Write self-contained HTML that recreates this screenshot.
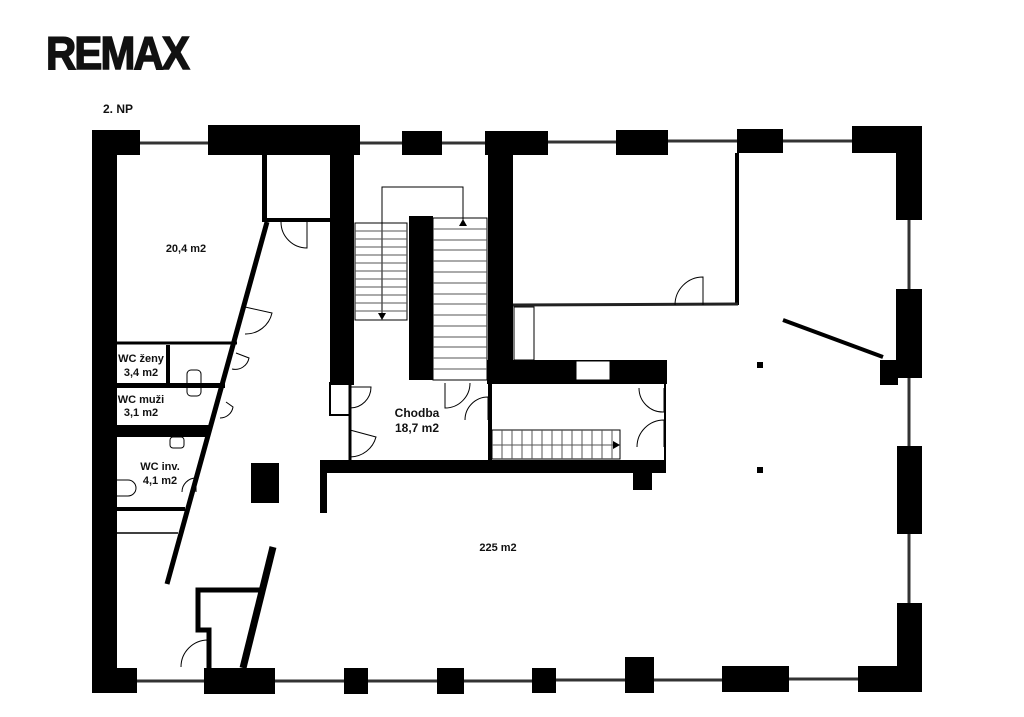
<!DOCTYPE html>
<html><head><meta charset="utf-8"><style>
html,body{margin:0;padding:0;background:#fff;}
svg{display:block}
text{font-family:"Liberation Sans",sans-serif;font-weight:bold;fill:#111}
</style></head><body>
<svg width="1024" height="717" viewBox="0 0 1024 717" xmlns="http://www.w3.org/2000/svg">
<rect width="1024" height="717" fill="#fff"/>
<text x="46" y="69" font-size="46" textLength="142" lengthAdjust="spacingAndGlyphs" style="font-weight:900;letter-spacing:-2px" stroke="#111" stroke-width="1.5">REMAX</text>
<text x="103" y="113" font-size="12">2. NP</text>

<g stroke="#333" stroke-width="3">
<line x1="140" y1="143" x2="208" y2="143"/>
<line x1="358" y1="143" x2="402" y2="143"/>
<line x1="442" y1="143" x2="485" y2="143"/>
<line x1="548" y1="142" x2="616" y2="142"/>
<line x1="668" y1="141" x2="737" y2="141"/>
<line x1="783" y1="141" x2="852" y2="141"/>
<line x1="909" y1="220" x2="909" y2="289"/>
<line x1="909" y1="378" x2="909" y2="446"/>
<line x1="909" y1="534" x2="909" y2="603"/>
<line x1="137" y1="681" x2="204" y2="681"/>
<line x1="275" y1="681" x2="344" y2="681"/>
<line x1="368" y1="681" x2="437" y2="681"/>
<line x1="464" y1="681" x2="532" y2="681"/>
<line x1="556" y1="680" x2="625" y2="680"/>
<line x1="654" y1="680" x2="722" y2="680"/>
<line x1="789" y1="679" x2="858" y2="679"/>
</g>

<g fill="#000">
<rect x="92" y="130" width="25" height="563"/>
<rect x="92" y="130" width="48" height="25"/>
<rect x="208" y="125" width="152" height="30"/>
<rect x="402" y="131" width="40" height="24"/>
<rect x="485" y="131" width="63" height="24"/>
<rect x="616" y="130" width="52" height="25"/>
<rect x="737" y="129" width="46" height="24"/>
<rect x="852" y="126" width="70" height="27"/>
<rect x="896" y="126" width="26" height="94"/>
<rect x="896" y="289" width="26" height="89"/>
<rect x="880" y="360" width="18" height="25"/>
<rect x="897" y="446" width="25" height="88"/>
<rect x="897" y="603" width="25" height="89"/>
<rect x="858" y="666" width="64" height="26"/>
<rect x="722" y="666" width="67" height="26"/>
<rect x="625" y="657" width="29" height="36"/>
<rect x="532" y="668" width="24" height="25"/>
<rect x="437" y="668" width="27" height="26"/>
<rect x="344" y="668" width="24" height="26"/>
<rect x="204" y="668" width="71" height="26"/>
<rect x="92" y="668" width="45" height="25"/>
<rect x="330" y="155" width="24" height="230"/>
<rect x="488" y="150" width="25" height="234"/>
<rect x="409" y="216" width="24" height="164"/>
<rect x="487" y="360" width="180" height="24"/>
<rect x="320" y="460" width="346" height="13"/>
<rect x="320" y="460" width="7" height="53"/>
<rect x="633" y="473" width="19" height="17"/>
<rect x="251" y="463" width="28" height="40"/>
<rect x="262" y="155" width="5" height="67"/>
<rect x="262" y="218" width="68" height="4"/>
<rect x="735" y="153" width="4" height="152"/>
<rect x="117" y="425" width="93" height="12"/>
<rect x="117" y="383" width="108" height="5"/>
<rect x="117" y="507" width="68" height="4"/>
<rect x="166" y="345" width="4" height="40"/>
<rect x="757" y="362" width="6" height="6"/>
<rect x="757" y="467" width="6" height="6"/>
</g>
<rect x="576" y="361" width="34" height="19" fill="#fff" stroke="#000"/>
<g stroke="#000" fill="none">
<line x1="267" y1="222" x2="167" y2="584" stroke-width="5"/>
<line x1="273" y1="547" x2="243" y2="668" stroke-width="7"/>
<polyline points="260,590 198,590 198,630 209,630 209,668" stroke-width="5"/>
<line x1="783" y1="320" x2="883" y2="357" stroke-width="4"/>
<line x1="513" y1="305" x2="738" y2="304" stroke-width="3" stroke="#222"/>
<line x1="117" y1="343" x2="237" y2="343" stroke-width="3"/>
<line x1="117" y1="533" x2="178" y2="533" stroke-width="1.5"/>
<line x1="350" y1="385" x2="350" y2="460" stroke-width="3"/>
<line x1="490" y1="384" x2="490" y2="460" stroke-width="4"/>
<line x1="665" y1="384" x2="665" y2="460" stroke-width="2"/>
</g>
<g stroke="#000" fill="none" stroke-width="1">
<rect x="355" y="223" width="52" height="97"/>
<rect x="433" y="218" width="54" height="162"/>
<rect x="492" y="430" width="128" height="29"/>
<polyline points="382,318 382,187 463,187 463,225"/>
<rect x="330" y="383" width="20" height="32" stroke-width="2"/>
<rect x="514" y="307" width="20" height="53"/>
</g>
<g stroke="#555" stroke-width="1">
<line x1="355" y1="231" x2="407" y2="231"/><line x1="355" y1="239" x2="407" y2="239"/><line x1="355" y1="247" x2="407" y2="247"/><line x1="355" y1="255" x2="407" y2="255"/><line x1="355" y1="263" x2="407" y2="263"/><line x1="355" y1="271" x2="407" y2="271"/><line x1="355" y1="279" x2="407" y2="279"/><line x1="355" y1="287" x2="407" y2="287"/><line x1="355" y1="295" x2="407" y2="295"/><line x1="355" y1="303" x2="407" y2="303"/><line x1="355" y1="311" x2="407" y2="311"/>
<line x1="433" y1="229" x2="487" y2="229"/><line x1="433" y1="240" x2="487" y2="240"/><line x1="433" y1="250" x2="487" y2="250"/><line x1="433" y1="261" x2="487" y2="261"/><line x1="433" y1="272" x2="487" y2="272"/><line x1="433" y1="283" x2="487" y2="283"/><line x1="433" y1="294" x2="487" y2="294"/><line x1="433" y1="304" x2="487" y2="304"/><line x1="433" y1="315" x2="487" y2="315"/><line x1="433" y1="326" x2="487" y2="326"/><line x1="433" y1="337" x2="487" y2="337"/><line x1="433" y1="347" x2="487" y2="347"/><line x1="433" y1="358" x2="487" y2="358"/><line x1="433" y1="369" x2="487" y2="369"/>
<line x1="502" y1="430" x2="502" y2="459"/><line x1="512" y1="430" x2="512" y2="459"/><line x1="522" y1="430" x2="522" y2="459"/><line x1="532" y1="430" x2="532" y2="459"/><line x1="542" y1="430" x2="542" y2="459"/><line x1="552" y1="430" x2="552" y2="459"/><line x1="562" y1="430" x2="562" y2="459"/><line x1="572" y1="430" x2="572" y2="459"/><line x1="582" y1="430" x2="582" y2="459"/><line x1="592" y1="430" x2="592" y2="459"/><line x1="602" y1="430" x2="602" y2="459"/><line x1="612" y1="430" x2="612" y2="459"/>
<line x1="492" y1="445" x2="618" y2="445"/>
</g>
<polygon points="378,313 386,313 382,320" fill="#000"/>
<polygon points="459,226 467,226 463,219" fill="#000"/>
<polygon points="613,441 620,445 613,449" fill="#000"/>
<g stroke="#000" fill="none" stroke-width="1">
<path d="M307,222 L307,248 A26,26 0 0 1 281,222"/>
<path d="M245,307 L272,313 A27,27 0 0 1 245,334"/>
<path d="M236,353 L249,358 A14,14 0 0 1 232,369"/>
<path d="M226,402 L233,407 A13,13 0 0 1 220,418"/>
<path d="M196,492 L196,478 A14,14 0 0 0 182,492"/>
<path d="M350,387 L371,387 A21,21 0 0 1 350,408"/>
<path d="M350,430 L376,437 A27,27 0 0 1 350,457"/>
<path d="M445,383 L445,408 A25,25 0 0 0 470,383"/>
<path d="M488,420 L488,397 A23,23 0 0 0 465,420"/>
<path d="M703,305 L703,277 A28,28 0 0 0 675,305"/>
<path d="M664,388 L664,412 A24,24 0 0 1 639,388"/>
<path d="M664,447 L664,420 A27,27 0 0 0 637,447"/>
<path d="M208,667 L208,640 A27,27 0 0 0 181,667"/>
<rect x="187" y="370" width="14" height="26" rx="4"/>
<rect x="170" y="437" width="14" height="11" rx="3"/>
<path d="M117,480 L128,480 A8,8 0 0 1 128,496 L117,496"/>
</g>
<g font-size="11" text-anchor="middle">
<text x="186" y="252">20,4 m2</text>
<text x="141" y="362">WC ženy</text>
<text x="141" y="376">3,4 m2</text>
<text x="141" y="403">WC muži</text>
<text x="141" y="416">3,1 m2</text>
<text x="160" y="470">WC inv.</text>
<text x="160" y="484">4,1 m2</text>
<text x="417" y="417" font-size="12">Chodba</text>
<text x="417" y="432" font-size="12">18,7 m2</text>
<text x="498" y="551">225 m2</text>
</g>
</svg>
</body></html>
